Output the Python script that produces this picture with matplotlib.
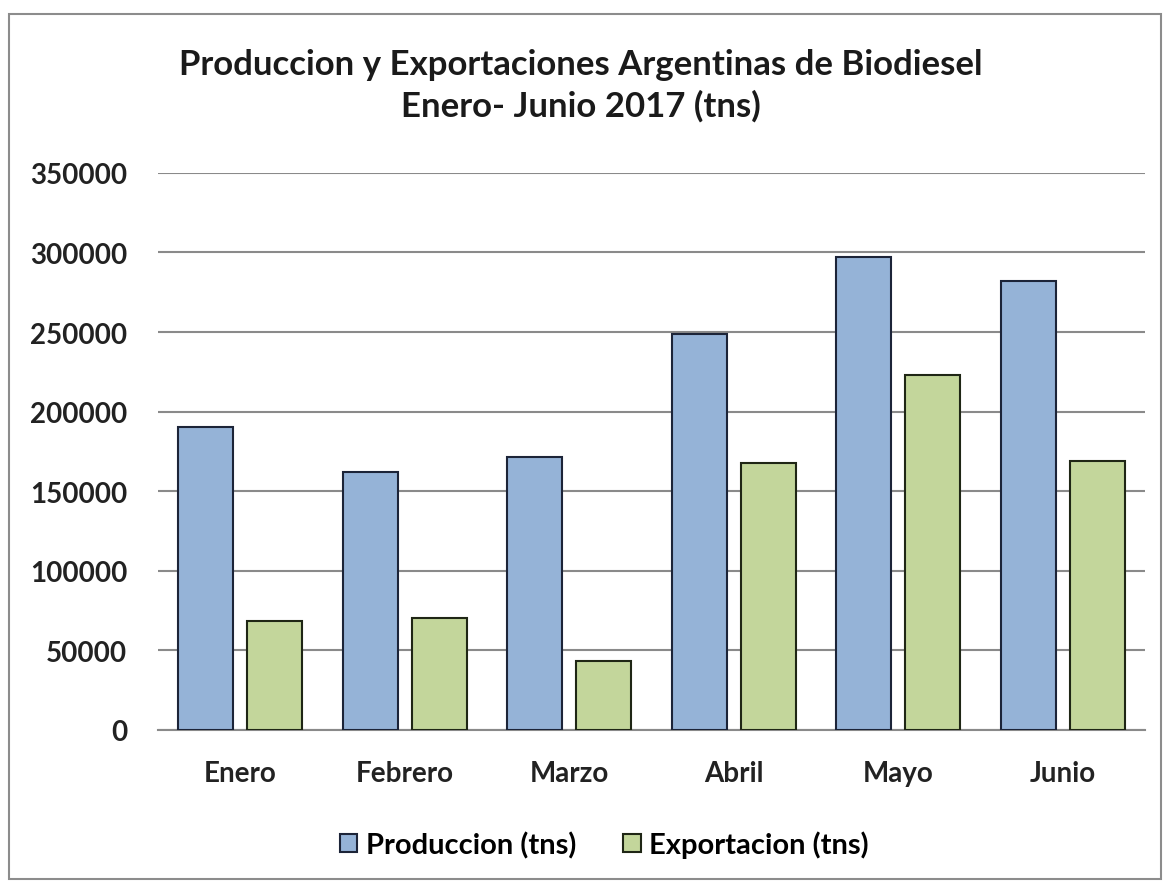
import matplotlib.pyplot as plt
import numpy as np
from matplotlib.patches import Rectangle

meses = ['Enero', 'Febrero', 'Marzo', 'Abril', 'Mayo', 'Junio']
produccion = [190000, 162000, 171500, 249000, 297000, 282000]
exportacion = [68500, 70000, 43000, 168000, 223000, 169000]

plt.rcParams['font.family'] = ['Lato', 'DejaVu Sans']

fig = plt.figure(figsize=(11.69, 8.87), dpi=100)
fig.patches.append(Rectangle((0.008, 0.008), 0.985, 0.975, transform=fig.transFigure,
                             fill=False, edgecolor='#8c8c8c', linewidth=1.5))

ax = fig.add_axes([0.135, 0.176, 0.8445, 0.628])
x = np.arange(len(meses))
w = 0.334
ax.bar(x - 0.21, produccion, w, color='#95b3d7', edgecolor='#1c2438', linewidth=1.5,
       label='Produccion (tns)', zorder=3)
ax.bar(x + 0.21, exportacion, w, color='#c3d69b', edgecolor='#1f2615', linewidth=1.5,
       label='Exportacion (tns)', zorder=3)

ax.set_xlim(-0.5, 5.5)
ax.set_ylim(0, 350000)
ax.set_yticks(range(0, 350001, 50000))
ax.set_xticks(x)
ax.set_xticklabels(meses)
ax.grid(axis='y', color='#8a8a8a', linewidth=1.5, zorder=0)
for s in ['top', 'right', 'left']:
    ax.spines[s].set_visible(False)
ax.spines['bottom'].set_color('#8a8a8a')
ax.spines['bottom'].set_linewidth(1.5)
ax.tick_params(length=0, labelsize=20, colors='#222222')
ax.tick_params(axis='y', pad=22)
ax.tick_params(axis='x', pad=22)
for lab in ax.get_xticklabels() + ax.get_yticklabels():
    lab.set_fontweight('bold')

fig.text(0.497, 0.903, 'Produccion y Exportaciones Argentinas de Biodiesel\nEnero- Junio 2017 (tns)',
         ha='center', va='center', fontsize=25, fontweight='bold', color='#1a1a1a',
         linespacing=1.32)

fig.legend(loc='center', bbox_to_anchor=(0.517, 0.047), ncol=2, frameon=False,
           prop={'size': 21, 'weight': 'bold'}, handlelength=0.6, handleheight=0.6,
           columnspacing=1.6, handletextpad=0.3)

fig.savefig('out.png', dpi=100)
